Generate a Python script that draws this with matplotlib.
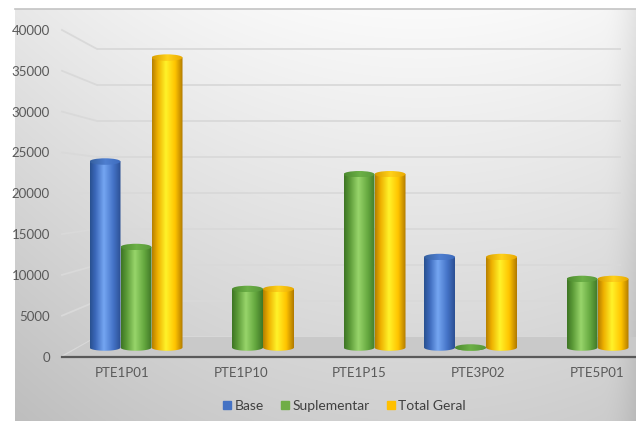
import numpy as np
import matplotlib
matplotlib.use("Agg")
import matplotlib.pyplot as plt
from matplotlib.colors import LinearSegmentedColormap
from matplotlib.patches import Ellipse, PathPatch, Polygon
from matplotlib.path import Path
from matplotlib.lines import Line2D

# ---- data -------------------------------------------------------------
categories = ["PTE1P01", "PTE1P10", "PTE1P15", "PTE3P02", "PTE5P01"]
series_names = ["Base", "Suplementar", "Total Geral"]
base = [24150, np.nan, np.nan, 11750, np.nan]
suplementar = [13050, 7600, 22500, 0, 8900]
total_geral = [37650, 7600, 22500, 11750, 8900]
y_ticks = [0, 5000, 10000, 15000, 20000, 25000, 30000, 35000, 40000]

# ---- style ------------------------------------------------------------
plt.rcParams["font.family"] = ["Lato", "DejaVu Sans"]
TEXT = "#595959"
legend_colors = ["#4472C4", "#70AD47", "#FFC000"]
body_stops = [
    ["#28508f", "#3c69bb", "#75a6f2", "#4574c8", "#2b4f92"],
    ["#3d7424", "#5b9a37", "#98d56b", "#65a83f", "#3e7626"],
    ["#b47e00", "#eeb000", "#fff22a", "#ffc400", "#b07800"],
]
top_stops = [
    ["#35609f", "#4f7fd0", "#3d6bbd"],
    ["#4c8a2e", "#6cb047", "#58983a"],
    ["#d99c00", "#ffd21a", "#e9a800"],
]
body_cmaps = [LinearSegmentedColormap.from_list(
    f"body{i}", list(zip([0, 0.18, 0.45, 0.75, 1], c)))
    for i, c in enumerate(body_stops)]
top_cmaps = [LinearSegmentedColormap.from_list(
    f"top{i}", list(zip([0, 0.5, 1], c))) for i, c in enumerate(top_stops)]

# ---- figure geometry (pixels, origin top-left) -------------------------
W, H = 636, 421
fig = plt.figure(figsize=(W / 100, H / 100), dpi=100)
fig.patch.set_facecolor("white")


def box(x0, y0, x1, y1):
    return [x0 / W, 1 - y1 / H, (x1 - x0) / W, (y1 - y0) / H]


CL, CT = 15, 9                 # chart area corner
FRONT_X, FRONT_Y = 62, 356.5   # front edge of the floor
BACK_X, BACK_Y = 97, 337       # back edge of the floor
GRID_R = 621
MID_Y = 347.5                  # base line of the columns
k_front = (FRONT_Y - 30) / 40000
k_back = (BACK_Y - 49) / 40000
k_mid = (MID_Y - 39.5) / 40000

# background with soft gradient
bg = fig.add_axes([0, 0, 1, 1], zorder=0)
bg.set_xlim(0, W)
bg.set_ylim(H, 0)
bg.axis("off")
yy, xx = np.mgrid[CT:H, CL:W].astype(float)
dx = (xx - 420) / 400
dy = (yy - CT) / (H - CT)
shade = 250 - 18 * dx ** 2 - 42 * dy - 18 * np.clip((xx - 600) / 36, 0, 1) ** 2
shade = np.clip(shade, 0, 255) / 255
bg.imshow(np.dstack([shade] * 3), extent=(CL, W, H, CT), aspect="auto",
          interpolation="bilinear", zorder=0)
bg.plot([CL, W], [CT, CT], color="#c4c4c4", lw=1.2, zorder=1)
bg.set_xlim(0, W)
bg.set_ylim(H, 0)

# back wall with horizontal gridlines
ax_back = fig.add_axes(box(BACK_X, CT, GRID_R, BACK_Y), zorder=1)
ax_back.set_ylim(0, (BACK_Y - CT) / k_back)
ax_back.set_xlim(0, 1)
ax_back.set_yticks(y_ticks)
ax_back.set_xticks([])
ax_back.tick_params(left=False, labelleft=False)
ax_back.grid(axis="y", color="#d9d9d9", lw=1.3)
ax_back.patch.set_alpha(0)
for s in ax_back.spines.values():
    s.set_visible(False)

# front axis: value labels, category labels and the floor edge
ax_front = fig.add_axes(box(FRONT_X, CT, W, FRONT_Y), zorder=2)
ax_front.set_ylim(0, (FRONT_Y - CT) / k_front)
ax_front.set_xlim((FRONT_X - 122) / 118.75, (W - 122) / 118.75)
ax_front.set_yticks(y_ticks)
ax_front.set_yticklabels([str(v) for v in y_ticks])
ax_front.set_xticks(range(len(categories)))
ax_front.set_xticklabels(categories)
ax_front.tick_params(length=0, colors=TEXT, labelsize=9.5)
ax_front.tick_params(axis="y", pad=8.6)
ax_front.tick_params(axis="x", pad=7.5)
ax_front.patch.set_alpha(0)
for name, s in ax_front.spines.items():
    s.set_visible(name == "bottom")
ax_front.spines["bottom"].set_color("#595959")
ax_front.spines["bottom"].set_linewidth(1.6)

to_bg = bg.transData.inverted()
fx0 = ax_front.get_xlim()[0]
bx0 = ax_back.get_xlim()[0]
for v in y_ticks:
    p0 = to_bg.transform(ax_front.transData.transform((fx0, v)))
    p1 = to_bg.transform(ax_back.transData.transform((bx0, v)))
    bg.plot([p0[0], p1[0]], [p0[1], p1[1]], color="#d9d9d9", lw=1.3, zorder=1)
fl = to_bg.transform(ax_front.transData.transform((fx0, 0)))
bl = to_bg.transform(ax_back.transData.transform((bx0, 0)))
floor = Polygon([fl, (W, fl[1]), (W, bl[1]), bl], closed=True,
                facecolor="#c9c9c9", edgecolor="none", zorder=2)
bg.add_patch(floor)

# columns drawn as cylinders
ax = fig.add_axes(box(CL, CT, W, H), zorder=3)
ax.axis("off")
ax.set_autoscale_on(False)
x_lim = ((CL - 136) / 111.5, (W - 136) / 111.5)
y_lim = (-(H - MID_Y) / k_mid, (MID_Y - CT) / k_mid)
ax.set_xlim(*x_lim)
ax.set_ylim(*y_lim)

bw = 31 / 111.5
eh = 6.5 / k_mid
x = np.arange(len(categories))
grad = np.linspace(0, 1, 256).reshape(1, -1)
for si, vals in enumerate([base, suplementar, total_geral]):
    vals = np.asarray(vals, dtype=float)
    bars = ax.bar(x + (si - 1) * bw, np.nan_to_num(vals), width=bw,
                  color="none", edgecolor="none")
    for rect, v in zip(bars, vals):
        if not np.isfinite(v):
            continue
        x0, w, h = rect.get_x(), rect.get_width(), rect.get_height()
        xc = x0 + w / 2
        t = np.linspace(np.pi, 2 * np.pi, 60)
        verts = [(x0, h), (x0, 0)]
        verts += list(zip(xc + w / 2 * np.cos(t), eh / 2 * np.sin(t)))
        verts += [(x0 + w, 0), (x0 + w, h), (x0, h)]
        body = PathPatch(Path(verts), transform=ax.transData)
        im = ax.imshow(grad, cmap=body_cmaps[si], aspect="auto",
                       extent=(x0, x0 + w, -eh / 2, max(h, 1e-6)),
                       origin="lower", interpolation="bilinear", zorder=3)
        im.set_clip_path(body)
        cap = Ellipse((xc, h), w, eh, transform=ax.transData)
        im2 = ax.imshow(grad, cmap=top_cmaps[si], aspect="auto",
                        extent=(x0, x0 + w, h - eh / 2, h + eh / 2),
                        origin="lower", interpolation="bilinear", zorder=4)
        im2.set_clip_path(cap)
ax.set_xlim(*x_lim)
ax.set_ylim(*y_lim)

# legend
handles = [Line2D([], [], marker="s", ls="", color=c, markersize=6)
           for c in legend_colors]
fig.legend(handles, series_names, loc="center",
           bbox_to_anchor=(343 / W, 1 - 406 / H), ncol=3, frameon=False,
           handletextpad=0.05, columnspacing=1.0, handlelength=1.0,
           fontsize=10, labelcolor="#404040")

fig.savefig("out.png", dpi=100)
